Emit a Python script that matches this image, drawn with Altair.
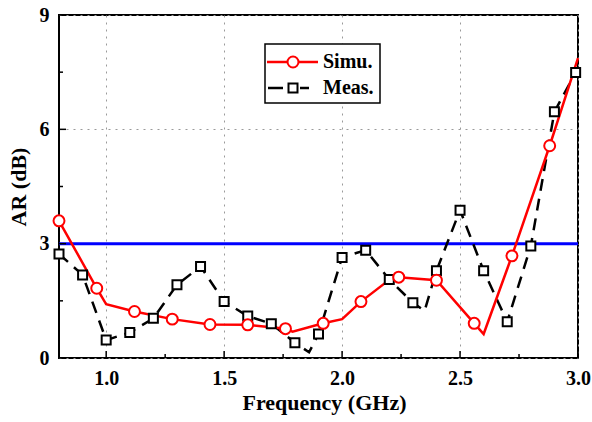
import altair as alt
import pandas as pd

# ---- data ----
simu_freq = [0.80, 0.96, 1.00, 1.12, 1.28, 1.44, 1.60, 1.76, 1.79, 1.92, 2.00, 2.08, 2.20, 2.24, 2.40, 2.56, 2.60, 2.72, 2.88, 3.00]
simu_ar   = [3.60, 1.83, 1.41, 1.22, 1.02, 0.88, 0.87, 0.77, 0.69, 0.91, 1.02, 1.48, 2.05, 2.12, 2.04, 0.91, 0.63, 2.68, 5.57, 7.87]
simu_mark = [1, 1, 0, 1, 1, 1, 1, 1, 0, 1, 0, 1, 0, 1, 1, 1, 0, 1, 1, 0]

meas_freq = [0.80, 0.90, 1.00, 1.10, 1.20, 1.30, 1.40, 1.50, 1.60, 1.70, 1.80, 1.86, 1.90, 2.00, 2.10, 2.20, 2.30, 2.35, 2.40, 2.50, 2.60, 2.70, 2.80, 2.90, 2.99]
meas_ar   = [2.73, 2.18, 0.47, 0.67, 1.04, 1.92, 2.40, 1.48, 1.10, 0.90, 0.40, 0.15, 0.63, 2.64, 2.83, 2.06, 1.45, 1.24, 2.29, 3.88, 2.29, 0.95, 2.94, 6.46, 7.49]
meas_mark = [1, 1, 1, 1, 1, 1, 1, 1, 1, 1, 1, 0, 1, 1, 1, 1, 1, 0, 1, 1, 1, 1, 1, 1, 1]

threshold = [3.0]
x_major = [1.0, 1.5, 2.0, 2.5, 3.0]
x_minor = [1.25, 1.75, 2.25, 2.75]
y_major = [0, 3, 6, 9]
y_minor = [1.5, 4.5, 7.5]
legend_labels = ["Simu.", "Meas."]

W, H = 519, 343
FONT = "Liberation Serif"

simu = pd.DataFrame({"f": simu_freq, "ar": simu_ar, "m": simu_mark})
meas = pd.DataFrame({"f": meas_freq, "ar": meas_ar, "m": meas_mark})

xs = alt.Scale(domain=[0.8, 3.0], nice=False, zero=False)
ys = alt.Scale(domain=[0, 9], nice=False, zero=True)

AX = alt.Axis(values=x_major, format=".1f", title="Frequency (GHz)", ticks=False,
              grid=True, gridColor="#9a9a9a", gridDash=[2, 5], gridWidth=1,
              domain=False, labelFont=FONT, labelFontSize=20, labelFontWeight="bold",
              labelColor="black", labelPadding=10, labelFlush=False, labelOverlap=False,
              titleFont=FONT, titleFontSize=22, titleFontWeight="bold", titleColor="black",
              titlePadding=4, titleX=265)
AY = alt.Axis(values=y_major, format="d", title="AR (dB)", ticks=False,
              grid=True, gridColor="#9a9a9a", gridDash=[2, 5], gridWidth=1,
              domain=False, labelFont=FONT, labelFontSize=20, labelFontWeight="bold",
              labelColor="black", labelPadding=10, labelFlush=False, labelOverlap=False,
              titleFont=FONT, titleFontSize=22, titleFontWeight="bold", titleColor="black",
              titlePadding=9)


def X(field):
    return alt.X(field, scale=xs, axis=AX)


def Y(field):
    return alt.Y(field, scale=ys, axis=AY)


blue = alt.Chart(pd.DataFrame({"t": threshold})).mark_rule(color="#0000ff", strokeWidth=3).encode(
    y=Y("t:Q"), x=alt.value(0), x2=alt.value(W)
)

simu_line = alt.Chart(simu).mark_line(color="#ff0000", strokeWidth=2.5).encode(
    x=X("f:Q"), y=Y("ar:Q"), order="f:Q"
)
simu_pts = alt.Chart(simu).transform_filter("datum.m == 1").mark_point(
    shape="circle", size=120, filled=False, fill="white", fillOpacity=1,
    stroke="#ff0000", strokeWidth=2, opacity=1
).encode(x=X("f:Q"), y=Y("ar:Q"))

meas_line = alt.Chart(meas).mark_line(color="black", strokeWidth=2.5, strokeDash=[12, 8]).encode(
    x=X("f:Q"), y=Y("ar:Q"), order="f:Q"
)
meas_pts = alt.Chart(meas).transform_filter("datum.m == 1").mark_point(
    shape="square", size=81, filled=False, fill="white", fillOpacity=1,
    stroke="black", strokeWidth=2, opacity=1
).encode(x=X("f:Q"), y=Y("ar:Q"))

# inward ticks
xt_major = alt.Chart(pd.DataFrame({"v": x_major})).mark_rule(color="black", strokeWidth=1.5).encode(
    x=X("v:Q"), y=alt.value(H), y2=alt.value(H - 7))
xt_minor = alt.Chart(pd.DataFrame({"v": x_minor})).mark_rule(color="black", strokeWidth=1.5).encode(
    x=X("v:Q"), y=alt.value(H), y2=alt.value(H - 4))
yt_major = alt.Chart(pd.DataFrame({"v": y_major})).mark_rule(color="black", strokeWidth=1.5).encode(
    y=Y("v:Q"), x=alt.value(0), x2=alt.value(7))
yt_minor = alt.Chart(pd.DataFrame({"v": y_minor})).mark_rule(color="black", strokeWidth=1.5).encode(
    y=Y("v:Q"), x=alt.value(0), x2=alt.value(4))

# legend
one = pd.DataFrame({"k": [0]})
leg_box = alt.Chart(one).mark_rect(fill="white", stroke="black", strokeWidth=1.5).encode(
    x=alt.value(206), x2=alt.value(321), y=alt.value(29), y2=alt.value(88))
leg_red_line = alt.Chart(one).mark_rule(color="#ff0000", strokeWidth=2.5).encode(
    x=alt.value(208), x2=alt.value(259), y=alt.value(47))
leg_red_pt = alt.Chart(one).mark_point(shape="circle", size=120, filled=False, fill="white",
                                       fillOpacity=1, stroke="#ff0000", strokeWidth=2, opacity=1).encode(
    x=alt.value(234), y=alt.value(47))
leg_blk_l = alt.Chart(one).mark_rule(color="black", strokeWidth=2.5).encode(
    x=alt.value(209), x2=alt.value(224), y=alt.value(73))
leg_blk_r = alt.Chart(one).mark_rule(color="black", strokeWidth=2.5).encode(
    x=alt.value(241), x2=alt.value(250), y=alt.value(73))
leg_blk_pt = alt.Chart(one).mark_point(shape="square", size=81, filled=False, fill="white",
                                       fillOpacity=1, stroke="black", strokeWidth=2, opacity=1).encode(
    x=alt.value(234), y=alt.value(73))
leg_txt = alt.Chart(pd.DataFrame({"lab": legend_labels, "yy": [47, 73]})).mark_text(
    font=FONT, fontSize=20, fontWeight="bold", color="black", align="left", baseline="middle"
).encode(text="lab:N", x=alt.value(264), y=alt.Y("yy:Q", scale=None, axis=None))

chart = alt.layer(
    blue, meas_line, simu_line, meas_pts, simu_pts,
    xt_major, xt_minor, yt_major, yt_minor,
    leg_box, leg_red_line, leg_red_pt, leg_blk_l, leg_blk_r, leg_blk_pt, leg_txt
).properties(
    width=W, height=H,
    autosize=alt.AutoSizeParams(type="none"),
    padding={"left": 59, "top": 15, "right": 14, "bottom": 64},
    background="white",
).configure_view(stroke="black", strokeWidth=2)

chart.save("out.html", embed_options={"renderer": "svg", "actions": False})
